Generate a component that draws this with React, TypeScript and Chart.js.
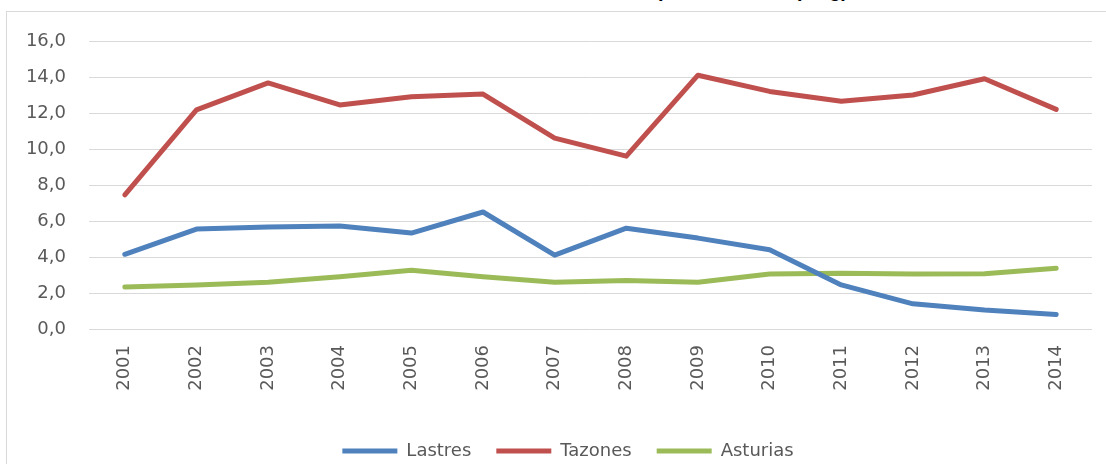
import React, { useEffect, useRef } from "react";
import { Chart, registerables } from "chart.js";

Chart.register(...registerables);

const years = ["2001","2002","2003","2004","2005","2006","2007","2008","2009","2010","2011","2012","2013","2014"];
const lastres = [4.15, 5.55, 5.67, 5.72, 5.33, 6.5, 4.1, 5.6, 5.05, 4.4, 2.45, 1.4, 1.05, 0.8];
const tazones = [7.45, 12.17, 13.67, 12.45, 12.9, 13.05, 10.6, 9.6, 14.1, 13.2, 12.65, 13.0, 13.9, 12.2];
const asturias = [2.33, 2.45, 2.6, 2.9, 3.27, 2.9, 2.6, 2.7, 2.6, 3.05, 3.1, 3.05, 3.07, 3.38];
const yTicks = [0, 2, 4, 6, 8, 10, 12, 14, 16];

const FONT = "'DejaVu Sans', sans-serif";
const TEXT = "#595959";

const shiftLegend = {
  id: "shiftLegend",
  afterLayout(chart: any) {
    const lg = chart.legend;
    if (lg) {
      lg.left += 22;
      lg.right += 22;
    }
  },
};

export default function App() {
  const ref = useRef<HTMLCanvasElement | null>(null);
  useEffect(() => {
    if (!ref.current) return;
    const mk = (label: string, data: number[], color: string) => ({
      label,
      data,
      borderColor: color,
      backgroundColor: color,
      borderWidth: 5,
      borderCapStyle: "round" as const,
      borderJoinStyle: "round" as const,
      pointRadius: 0,
      tension: 0,
      fill: false,
    });
    const chart = new Chart(ref.current, {
      type: "line",
      data: {
        labels: years,
        datasets: [
          mk("Lastres", lastres, "#4F81BD"),
          mk("Tazones", tazones, "#C0504D"),
          mk("Asturias", asturias, "#9BBB59"),
        ],
      },
      plugins: [shiftLegend],
      options: {
        animation: false,
        responsive: false,
        maintainAspectRatio: false,
        layout: { padding: { top: 41, right: 14, left: 0, bottom: -6 } },
        plugins: {
          tooltip: { enabled: false },
          title: { display: false },
          legend: {
            position: "bottom",
            labels: {
              font: { family: FONT, size: 18 },
              color: TEXT,
              boxWidth: 55,
              boxHeight: 5,
              padding: 25,
              generateLabels: (c: any) =>
                c.data.datasets.map((d: any, i: number) => ({
                  text: d.label,
                  fillStyle: d.borderColor,
                  strokeStyle: d.borderColor,
                  lineWidth: 0,
                  hidden: false,
                  datasetIndex: i,
                  fontColor: TEXT,
                })),
            },
          },
        },
        scales: {
          x: {
            offset: true,
            grid: { display: false, drawTicks: false },
            border: { display: false },
            ticks: {
              minRotation: 90,
              maxRotation: 90,
              padding: 16,
              color: TEXT,
              font: { family: FONT, size: 18 },
            },
            afterFit: (s: any) => { s.height = 88; },
          },
          y: {
            min: 0,
            max: 16,
            afterBuildTicks: (s: any) => { s.ticks = yTicks.map((v) => ({ value: v })); },
            grid: { color: "#D9D9D9", lineWidth: 1, drawTicks: false },
            border: { display: false },
            ticks: {
              padding: 23,
              color: TEXT,
              font: { family: FONT, size: 18 },
              callback: (v: any) => Number(v).toFixed(1).replace(".", ","),
            },
            afterFit: (s: any) => { s.width = 89; },
          },
        },
      },
    });
    return () => chart.destroy();
  }, []);
  return (
    <div style={{ position: "fixed", left: 0, top: 0, width: 1106, height: 464, background: "#fff", overflow: "hidden" }}>
      <div
        style={{
          position: "absolute",
          right: 1106 - 848,
          top: -20,
          fontFamily: "'Liberation Sans', Arial, sans-serif",
          fontWeight: "bold",
          fontSize: 20,
          lineHeight: "20px",
          color: "#000",
          whiteSpace: "nowrap",
        }}
      >
        Precio medio en primera venta (€/kg)
      </div>
      <div
        style={{
          position: "absolute",
          left: 6,
          top: 11,
          width: 1200,
          height: 600,
          border: "1px solid #D9D9D9",
          boxSizing: "border-box",
          pointerEvents: "none",
        }}
      />
      <canvas ref={ref} width={1106} height={464} style={{ position: "absolute", left: 0, top: 0, display: "block" }} />
    </div>
  );
}
